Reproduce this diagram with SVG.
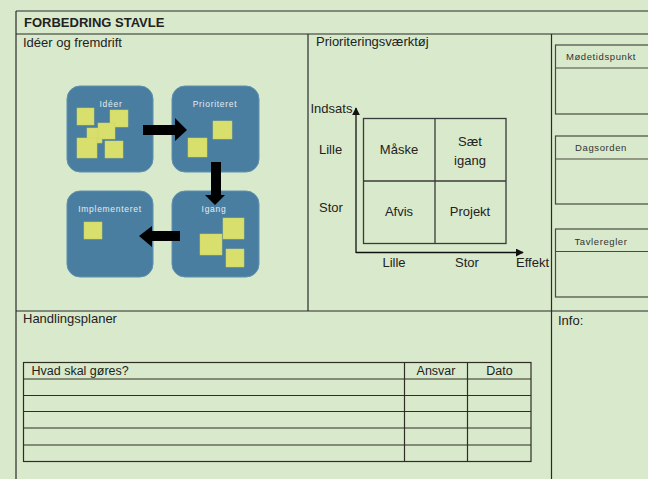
<svg xmlns="http://www.w3.org/2000/svg" width="648" height="479" viewBox="0 0 648 479">
<defs>
<style>
.t{font-family:"Liberation Sans",Arial,sans-serif;fill:#222;}
.h{font-size:13px;}
.ln{stroke:#2b2b2b;stroke-width:1.2;fill:none;}
.box{fill:#4a7ea1;stroke:#5f90ae;stroke-width:1;}
.st{fill:#d8df6c;stroke:#c9d160;stroke-width:0.5;}
.nl{font-family:"Liberation Sans",Arial,sans-serif;font-size:8.5px;fill:#e3ecef;letter-spacing:0.7px;text-anchor:middle;}
.sb{fill:none;stroke:#4a4a40;stroke-width:1.2;}
.sl{font-family:"Liberation Sans",Arial,sans-serif;font-size:9.5px;fill:#333;letter-spacing:0.6px;text-anchor:middle;}
.g{stroke:#3a3a3a;stroke-width:1.3;fill:none;}
.c{text-anchor:middle;}
</style>
<marker id="ah" viewBox="0 0 10 10" refX="9" refY="5" markerWidth="8" markerHeight="8" markerUnits="userSpaceOnUse" orient="auto"><path d="M0,0 L10,5 L0,10 z" fill="#111"/></marker>
</defs>
<rect x="0" y="0" width="648" height="479" fill="#d9e9cb"/>

<!-- frame -->
<g id="frame" class="ln">
<line x1="16" y1="11" x2="648" y2="11"/>
<line x1="16" y1="11" x2="16" y2="479"/>
<line x1="16" y1="34" x2="648" y2="34"/>
<line x1="308" y1="34" x2="308" y2="311"/>
<line x1="551.5" y1="34" x2="551.5" y2="479"/>
<line x1="16" y1="311" x2="648" y2="311"/>
</g>
<text class="t" x="24" y="26.5" font-size="13" font-weight="bold">FORBEDRING STAVLE</text>
<text class="t h" x="23" y="47">Idéer og fremdrift</text>
<text class="t h" x="316" y="46">Prioriteringsværktøj</text>
<text class="t h" x="23" y="323">Handlingsplaner</text>
<text class="t h" x="558" y="325">Info:</text>

<!-- process boxes -->
<g id="ideer">
<rect class="box" x="67" y="86" width="86" height="86" rx="13"/>
<text class="nl" x="111" y="107">Idéer</text>
<rect class="st" x="77" y="108" width="17" height="17"/>
<rect class="st" x="110" y="110" width="18" height="17"/>
<rect class="st" x="87" y="128" width="15" height="15"/>
<rect class="st" x="98" y="123" width="17" height="16"/>
<rect class="st" x="77" y="138" width="20" height="20"/>
<rect class="st" x="105" y="141" width="18" height="17"/>
</g>
<g id="prioriteret">
<rect class="box" x="172" y="86" width="87" height="86" rx="13"/>
<text class="nl" x="215" y="107">Prioriteret</text>
<rect class="st" x="213" y="121" width="19" height="18"/>
<rect class="st" x="188" y="138" width="19" height="19"/>
</g>
<g id="implementeret">
<rect class="box" x="67" y="191" width="86" height="86" rx="13"/>
<text class="nl" x="110" y="212">Implementeret</text>
<rect class="st" x="84" y="222" width="18" height="17"/>
</g>
<g id="igang">
<rect class="box" x="172" y="191" width="87" height="86" rx="13"/>
<text class="nl" x="214" y="212">Igang</text>
<rect class="st" x="223" y="218" width="21" height="21"/>
<rect class="st" x="200" y="234" width="22" height="21"/>
<rect class="st" x="226" y="249" width="18" height="18"/>
</g>

<g id="connectors" fill="#000">
<polygon points="143,125 175,125 175,118 187,130 175,141 175,135 143,135"/>
<polygon points="211,162 221,162 221,195 225,195 215,205 205,195 211,195"/>
<polygon points="180,231 152,231 152,226 139,236 152,247 152,241 180,241"/>
</g>

<!-- priority matrix -->
<g id="matrix">
<rect class="g" x="363.5" y="118.5" width="142.5" height="125"/>
<line class="g" x1="435" y1="118.5" x2="435" y2="243.5"/>
<line class="g" x1="363.5" y1="181" x2="506" y2="181"/>
<text class="t h c" x="399" y="154">Måske</text>
<text class="t h c" x="470" y="146">Sæt</text>
<text class="t h c" x="470" y="165">igang</text>
<text class="t h c" x="399" y="216">Afvis</text>
<text class="t h c" x="470" y="216">Projekt</text>
</g>
<g id="axes" stroke="#111" stroke-width="1.3">
<line x1="356" y1="253" x2="356" y2="108" marker-end="url(#ah)"/>
<line x1="356" y1="252.5" x2="523" y2="252.5" marker-end="url(#ah)"/>
</g>
<text class="t h" x="310.5" y="112.5">Indsats</text>
<text class="t h" x="319" y="154">Lille</text>
<text class="t h" x="319" y="212">Stor</text>
<text class="t h c" x="394" y="267">Lille</text>
<text class="t h c" x="467" y="267">Stor</text>
<text class="t h" x="516" y="267">Effekt</text>

<!-- side boxes -->
<g id="modetidspunkt">
<rect class="sb" x="555.5" y="45" width="100" height="69"/>
<line class="sb" x1="555.5" y1="68" x2="648" y2="68"/>
<text class="sl" x="601" y="59.5">Mødetidspunkt</text>
</g>
<g id="dagsorden">
<rect class="sb" x="555.5" y="136" width="100" height="68"/>
<line class="sb" x1="555.5" y1="159" x2="648" y2="159"/>
<text class="sl" x="601" y="151">Dagsorden</text>
</g>
<g id="tavleregler">
<rect class="sb" x="555.5" y="229" width="100" height="68"/>
<line class="sb" x1="555.5" y1="251.5" x2="648" y2="251.5"/>
<text class="sl" x="601" y="244.5">Tavleregler</text>
</g>

<!-- action table -->
<g id="table" stroke="#2e2e22" stroke-width="1.2" fill="none">
<rect x="23.5" y="362.5" width="507.5" height="99"/>
<line x1="23.5" y1="379" x2="531" y2="379"/>
<line x1="23.5" y1="395.5" x2="531" y2="395.5"/>
<line x1="23.5" y1="411.5" x2="531" y2="411.5"/>
<line x1="23.5" y1="428" x2="531" y2="428"/>
<line x1="23.5" y1="445" x2="531" y2="445"/>
<line x1="404.5" y1="362.5" x2="404.5" y2="461.5"/>
<line x1="467.5" y1="362.5" x2="467.5" y2="461.5"/>
</g>
<text class="t" x="31.5" y="375" font-size="12.5">Hvad skal gøres?</text>
<text class="t c" x="436" y="375" font-size="12.5">Ansvar</text>
<text class="t c" x="499.5" y="375" font-size="12.5">Dato</text>
</svg>
